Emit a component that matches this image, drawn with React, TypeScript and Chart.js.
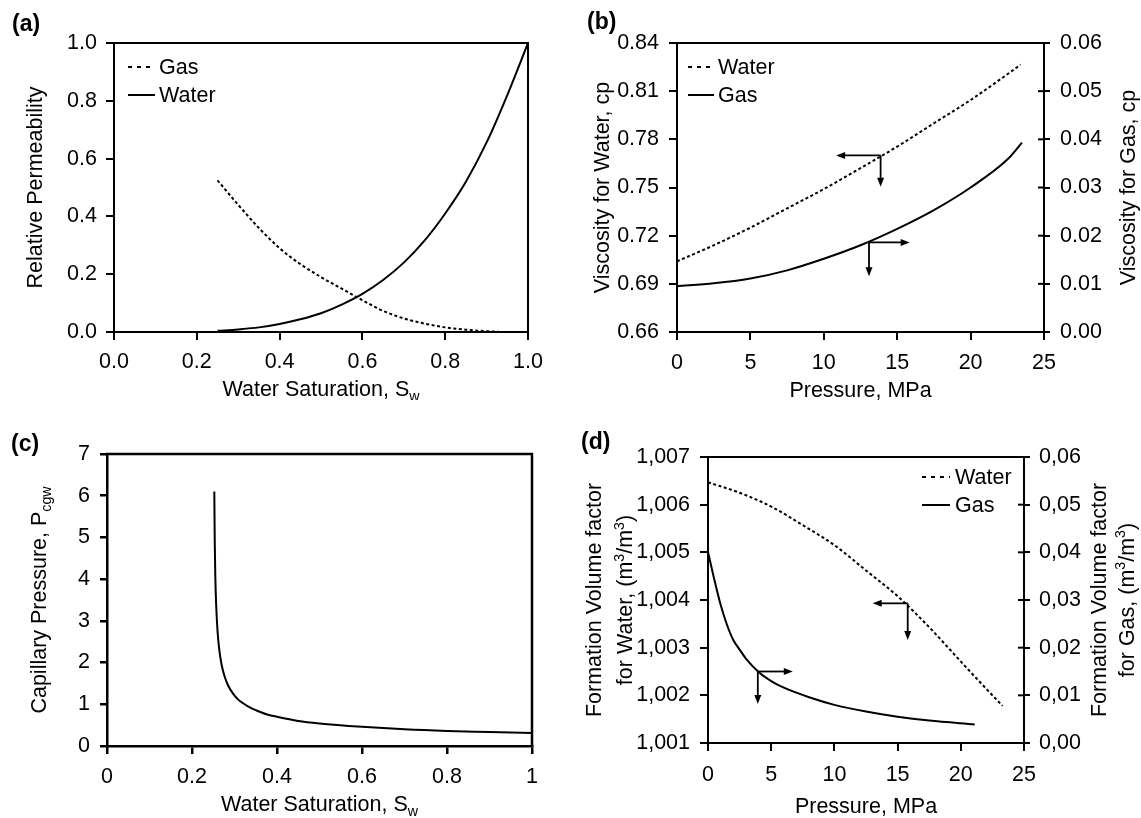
import React, { useEffect, useRef } from 'react';
import { Chart, registerables } from 'chart.js';

Chart.register(...registerables);

const FONT = '"Liberation Sans", Arial, Helvetica, sans-serif';
const FS = 21.5;

// ---------- (a) Relative permeability ----------
const aWaterSw = [0.25, 0.3, 0.35, 0.4, 0.45, 0.5, 0.55, 0.6, 0.65, 0.7, 0.75, 0.8, 0.85, 0.9, 0.95, 1.0];
const aWaterKr = [0.004, 0.009, 0.016, 0.028, 0.044, 0.065, 0.095, 0.132, 0.18, 0.24, 0.316, 0.41, 0.52, 0.656, 0.82, 1.0];
const aGasSw = [0.25, 0.3, 0.35, 0.4, 0.45, 0.5, 0.55, 0.6, 0.65, 0.7, 0.75, 0.8, 0.85, 0.9, 0.93];
const aGasKr = [0.525, 0.44, 0.36, 0.29, 0.235, 0.19, 0.15, 0.11, 0.073, 0.047, 0.029, 0.016, 0.008, 0.003, 0.001];
const aXTicks = [0, 0.2, 0.4, 0.6, 0.8, 1.0];
const aXLabels = ['0.0', '0.2', '0.4', '0.6', '0.8', '1.0'];
const aYTicks = [0, 0.2, 0.4, 0.6, 0.8, 1.0];
const aYLabels = ['0.0', '0.2', '0.4', '0.6', '0.8', '1.0'];

// ---------- (b) Viscosity ----------
const bWaterP = [0, 2.5, 5, 7.5, 10, 12.5, 15, 17.5, 20, 22.5, 23.4];
const bWaterMu = [0.704, 0.714, 0.725, 0.737, 0.749, 0.762, 0.7755, 0.79, 0.8045, 0.8205, 0.8265];
const bGasP = [0, 2.5, 5, 7.5, 10, 12.5, 15, 17.5, 20, 22.5, 23.5];
const bGasMu = [0.0095, 0.0101, 0.0111, 0.0128, 0.0152, 0.018, 0.0214, 0.0253, 0.03, 0.0358, 0.0393];
const bXTicks = [0, 5, 10, 15, 20, 25];
const bXLabels = ['0', '5', '10', '15', '20', '25'];
const bYTicks = [0.66, 0.69, 0.72, 0.75, 0.78, 0.81, 0.84];
const bYLabels = ['0.66', '0.69', '0.72', '0.75', '0.78', '0.81', '0.84'];
const bY1Ticks = [0, 0.01, 0.02, 0.03, 0.04, 0.05, 0.06];
const bY1Labels = ['0.00', '0.01', '0.02', '0.03', '0.04', '0.05', '0.06'];
// [corner x, corner y, horizontal tip x, vertical tip y]
const bWaterArrow = [13.87, 0.770, 10.84, 0.7505];
const bGasArrow = [13.08, 0.0186, 15.85, 0.0116];

// ---------- (c) Capillary pressure ----------
const cSw = [0.2525, 0.2535, 0.255, 0.257, 0.26, 0.264, 0.27, 0.277, 0.285, 0.297, 0.31, 0.321, 0.335, 0.352, 0.375, 0.4, 0.45, 0.5, 0.6, 0.7, 0.8, 0.9, 1.0];
const cPc = [6.1, 4.9, 4.0, 3.35, 2.77, 2.32, 1.93, 1.66, 1.45, 1.25, 1.1, 1.02, 0.93, 0.85, 0.76, 0.7, 0.6, 0.54, 0.46, 0.4, 0.36, 0.335, 0.31];
const cXTicks = [0, 0.2, 0.4, 0.6, 0.8, 1];
const cXLabels = ['0', '0.2', '0.4', '0.6', '0.8', '1'];
const cYTicks = [0, 1, 2, 3, 4, 5, 6, 7];
const cYLabels = ['0', '1', '2', '3', '4', '5', '6', '7'];

// ---------- (d) Formation volume factor ----------
const dWaterP = [0, 2.5, 5, 7.5, 10, 12.5, 15, 17.5, 20, 22, 23.3];
const dWaterB = [1.00647, 1.00625, 1.00596, 1.00557, 1.00515, 1.00462, 1.00408, 1.00343, 1.00271, 1.00214, 1.00178];
const dGasP = [0, 0.5, 1, 1.5, 2, 2.5, 3, 4, 5, 6, 8, 10, 12.5, 15, 17.5, 21.1];
const dGasB = [0.0401, 0.0343, 0.029, 0.0248, 0.0216, 0.0196, 0.0177, 0.0149, 0.013, 0.0116, 0.0096, 0.008, 0.0066, 0.0055, 0.0047, 0.0039];
const dXTicks = [0, 5, 10, 15, 20, 25];
const dXLabels = ['0', '5', '10', '15', '20', '25'];
const dYTicks = [1.001, 1.002, 1.003, 1.004, 1.005, 1.006, 1.007];
const dYLabels = ['1,001', '1,002', '1,003', '1,004', '1,005', '1,006', '1,007'];
const dY1Ticks = [0, 0.01, 0.02, 0.03, 0.04, 0.05, 0.06];
const dY1Labels = ['0,00', '0,01', '0,02', '0,03', '0,04', '0,05', '0,06'];
const dWaterArrow = [15.8, 1.00393, 13.03, 1.00316];
const dGasArrow = [3.94, 0.015, 6.71, 0.0082];

// ---------- helpers ----------
type Seg = { t: string; v?: 'sub' | 'sup' };
type TitleSpec = { segs: Seg[]; x: number | null; y: number | null; rot: number };
type LegendItem = { text: string; dash: number[]; y: number };
type ArrowSpec = { axis: string; d: number[] };

interface Decor {
  label: { text: string; x: number; y: number };
  bw: number;
  rightBorder: boolean;
  crossAxis?: string;
  legend: { x0: number; x1: number; tx: number; items: LegendItem[] };
  titles: TitleSpec[];
  arrows: ArrowSpec[];
}

const pts = (xs: number[], ys: number[]) => xs.map((x, i) => ({ x, y: ys[i] }));

function drawRich(ctx: CanvasRenderingContext2D, segs: Seg[], x: number, y: number, rot: number, size: number) {
  ctx.save();
  ctx.translate(x, y);
  ctx.rotate(rot);
  ctx.textAlign = 'left';
  ctx.textBaseline = 'alphabetic';
  ctx.fillStyle = '#000';
  const fontFor = (s: Seg) => `${s.v ? size * 0.66 : size}px ${FONT}`;
  const widths = segs.map((s) => {
    ctx.font = fontFor(s);
    return ctx.measureText(s.t).width;
  });
  const total = widths.reduce((a, b) => a + b, 0);
  let cx = -total / 2;
  const base = size * 0.36;
  segs.forEach((s, i) => {
    ctx.font = fontFor(s);
    const dy = s.v === 'sub' ? size * 0.24 : s.v === 'sup' ? -size * 0.4 : 0;
    ctx.fillText(s.t, cx, base + dy);
    cx += widths[i];
  });
  ctx.restore();
}

function drawArrow(ctx: CanvasRenderingContext2D, x0: number, y0: number, x1: number, y1: number) {
  const ang = Math.atan2(y1 - y0, x1 - x0);
  const L = 9;
  const W = 3.5;
  ctx.beginPath();
  ctx.moveTo(x0, y0);
  ctx.lineTo(x1 - Math.cos(ang) * (L - 1), y1 - Math.sin(ang) * (L - 1));
  ctx.stroke();
  ctx.beginPath();
  ctx.moveTo(x1, y1);
  ctx.lineTo(x1 - Math.cos(ang) * L - Math.sin(ang) * W, y1 - Math.sin(ang) * L + Math.cos(ang) * W);
  ctx.lineTo(x1 - Math.cos(ang) * L + Math.sin(ang) * W, y1 - Math.sin(ang) * L - Math.cos(ang) * W);
  ctx.closePath();
  ctx.fill();
}

function decorPlugin(spec: Decor) {
  return {
    id: 'decor',
    afterDraw(chart: any) {
      const ctx: CanvasRenderingContext2D = chart.ctx;
      const a = chart.chartArea;
      ctx.save();
      ctx.strokeStyle = '#000';
      ctx.fillStyle = '#000';
      ctx.lineWidth = spec.bw;
      ctx.lineCap = 'square';
      ctx.setLineDash([]);
      ctx.beginPath();
      ctx.moveTo(a.left, a.top);
      ctx.lineTo(a.right, a.top);
      if (spec.rightBorder) ctx.lineTo(a.right, a.bottom);
      ctx.stroke();
      ctx.lineCap = 'butt';

      if (spec.crossAxis) {
        const s = chart.scales[spec.crossAxis];
        ctx.lineWidth = spec.bw;
        s.ticks.forEach((t: any) => {
          const y = s.getPixelForValue(t.value);
          ctx.beginPath();
          ctx.moveTo(a.right - 6, y);
          ctx.lineTo(a.right, y);
          ctx.stroke();
        });
      }

      // panel label
      ctx.font = `bold 23px ${FONT}`;
      ctx.textAlign = 'left';
      ctx.textBaseline = 'alphabetic';
      ctx.fillText(spec.label.text, spec.label.x, spec.label.y);

      // legend
      ctx.font = `${FS}px ${FONT}`;
      ctx.textBaseline = 'middle';
      spec.legend.items.forEach((it) => {
        ctx.lineWidth = 2;
        ctx.setLineDash(it.dash);
        ctx.beginPath();
        ctx.moveTo(spec.legend.x0, it.y);
        ctx.lineTo(spec.legend.x1, it.y);
        ctx.stroke();
        ctx.setLineDash([]);
        ctx.fillText(it.text, spec.legend.tx, it.y + 1);
      });

      // axis titles
      const cxm = (a.left + a.right) / 2;
      const cym = (a.top + a.bottom) / 2;
      spec.titles.forEach((t) => {
        drawRich(ctx, t.segs, t.x === null ? cxm : t.x, t.y === null ? cym : t.y, t.rot, FS);
      });

      // arrows
      ctx.lineWidth = 1.8;
      ctx.setLineDash([]);
      const xs = chart.scales.x;
      spec.arrows.forEach((ar) => {
        const ys = chart.scales[ar.axis];
        const cx = xs.getPixelForValue(ar.d[0]);
        const cy = ys.getPixelForValue(ar.d[1]);
        const hx = xs.getPixelForValue(ar.d[2]);
        const vy = ys.getPixelForValue(ar.d[3]);
        drawArrow(ctx, cx, cy, hx, cy);
        drawArrow(ctx, cx, cy, cx, vy);
      });
      ctx.restore();
    },
  };
}

function axis(o: {
  pos: string; min: number; max: number; ticks: number[]; labels: string[];
  size: number; pad: number; tick: number; bw: number;
}) {
  const horizontal = o.pos === 'bottom';
  return {
    type: 'linear',
    position: o.pos,
    min: o.min,
    max: o.max,
    afterBuildTicks: (s: any) => {
      s.ticks = o.ticks.map((v) => ({ value: v }));
    },
    afterFit: (s: any) => {
      if (horizontal) s.height = o.size;
      else s.width = o.size;
    },
    ticks: {
      callback: (_v: any, i: number) => o.labels[i],
      font: { family: FONT, size: FS },
      color: '#000',
      padding: o.pad,
      maxRotation: 0,
      minRotation: 0,
      autoSkip: false,
    },
    grid: {
      drawOnChartArea: false,
      drawTicks: true,
      tickLength: o.tick,
      color: '#000',
      lineWidth: o.bw,
    },
    border: { display: true, color: '#000', width: o.bw },
    title: { display: false },
  };
}

const solid = { borderColor: '#000', borderWidth: 2, borderDash: [] as number[], pointRadius: 0, fill: false, cubicInterpolationMode: 'monotone' };
const dotted = { borderColor: '#000', borderWidth: 2, borderDash: [3, 2.5], pointRadius: 0, fill: false, cubicInterpolationMode: 'monotone' };

const baseOptions = (padding: any, scales: any) => ({
  responsive: false,
  animation: false,
  devicePixelRatio: 1,
  layout: { padding },
  plugins: { legend: { display: false }, tooltip: { enabled: false }, title: { display: false } },
  events: [],
  scales,
});

const HALF = -Math.PI / 2;

interface PanelDef {
  x: number; y: number; w: number; h: number;
  make: () => any;
}

const panels: PanelDef[] = [
  {
    x: 0, y: 0, w: 570, h: 400,
    make: () => ({
      type: 'line',
      data: {
        datasets: [
          { ...dotted, label: 'Gas', data: pts(aGasSw, aGasKr) },
          { ...solid, label: 'Water', data: pts(aWaterSw, aWaterKr) },
        ],
      },
      options: baseOptions({ top: 43, right: 42, left: 0, bottom: 0 }, {
        x: axis({ pos: 'bottom', min: 0, max: 1, ticks: aXTicks, labels: aXLabels, size: 68, pad: 9, tick: 8, bw: 2 }),
        y: axis({ pos: 'left', min: 0, max: 1, ticks: aYTicks, labels: aYLabels, size: 114, pad: 9, tick: 8, bw: 2 }),
      }),
      plugins: [decorPlugin({
        label: { text: '(a)', x: 12, y: 31 },
        bw: 2,
        rightBorder: true,
        legend: { x0: 128, x1: 155, tx: 159, items: [{ text: 'Gas', dash: [4, 5], y: 67 }, { text: 'Water', dash: [], y: 95 }] },
        titles: [
          { segs: [{ t: 'Relative Permeability' }], x: 34.5, y: null, rot: HALF },
          { segs: [{ t: 'Water Saturation, S' }, { t: 'w', v: 'sub' }], x: null, y: 388, rot: 0 },
        ],
        arrows: [],
      })],
    }),
  },
  {
    x: 570, y: 0, w: 571, h: 400,
    make: () => ({
      type: 'line',
      data: {
        datasets: [
          { ...dotted, label: 'Water', data: pts(bWaterP, bWaterMu), yAxisID: 'y' },
          { ...solid, label: 'Gas', data: pts(bGasP, bGasMu), yAxisID: 'y1' },
        ],
      },
      options: baseOptions({ top: 43, right: 0, left: 0, bottom: 0 }, {
        x: axis({ pos: 'bottom', min: 0, max: 25, ticks: bXTicks, labels: bXLabels, size: 68, pad: 10, tick: 8, bw: 2 }),
        y: axis({ pos: 'left', min: 0.66, max: 0.84, ticks: bYTicks, labels: bYLabels, size: 107, pad: 10, tick: 8, bw: 2 }),
        y1: axis({ pos: 'right', min: 0, max: 0.06, ticks: bY1Ticks, labels: bY1Labels, size: 97, pad: 10, tick: 6, bw: 2 }),
      }),
      plugins: [decorPlugin({
        label: { text: '(b)', x: 17, y: 29 },
        bw: 2,
        rightBorder: false,
        crossAxis: 'y1',
        legend: { x0: 118, x1: 144, tx: 148, items: [{ text: 'Water', dash: [4, 5], y: 67 }, { text: 'Gas', dash: [], y: 95 }] },
        titles: [
          { segs: [{ t: 'Viscosity for Water, cp' }], x: 31, y: null, rot: HALF },
          { segs: [{ t: 'Viscosity for Gas, cp' }], x: 557.5, y: null, rot: HALF },
          { segs: [{ t: 'Pressure, MPa' }], x: null, y: 389, rot: 0 },
        ],
        arrows: [{ axis: 'y', d: bWaterArrow }, { axis: 'y1', d: bGasArrow }],
      })],
    }),
  },
  {
    x: 0, y: 400, w: 570, h: 418,
    make: () => ({
      type: 'line',
      data: {
        datasets: [{ ...solid, label: 'Pc', data: pts(cSw, cPc) }],
      },
      options: baseOptions({ top: 54, right: 38, left: 0, bottom: 0 }, {
        x: axis({ pos: 'bottom', min: 0, max: 1, ticks: cXTicks, labels: cXLabels, size: 72, pad: 10, tick: 8, bw: 2.5 }),
        y: axis({ pos: 'left', min: 0, max: 7, ticks: cYTicks, labels: cYLabels, size: 107, pad: 10, tick: 7, bw: 2.5 }),
      }),
      plugins: [decorPlugin({
        label: { text: '(c)', x: 11, y: 51 },
        bw: 2.5,
        rightBorder: true,
        legend: { x0: 0, x1: 0, tx: 0, items: [] },
        titles: [
          { segs: [{ t: 'Capillary Pressure, P' }, { t: 'cgw', v: 'sub' }], x: 38, y: null, rot: HALF },
          { segs: [{ t: 'Water Saturation, S' }, { t: 'w', v: 'sub' }], x: null, y: 403, rot: 0 },
        ],
        arrows: [],
      })],
    }),
  },
  {
    x: 570, y: 400, w: 571, h: 418,
    make: () => ({
      type: 'line',
      data: {
        datasets: [
          { ...dotted, label: 'Water', data: pts(dWaterP, dWaterB), yAxisID: 'y' },
          { ...solid, label: 'Gas', data: pts(dGasP, dGasB), yAxisID: 'y1' },
        ],
      },
      options: baseOptions({ top: 57, right: 0, left: 0, bottom: 0 }, {
        x: axis({ pos: 'bottom', min: 0, max: 25, ticks: dXTicks, labels: dXLabels, size: 75, pad: 11, tick: 8, bw: 2 }),
        y: axis({ pos: 'left', min: 1.001, max: 1.007, ticks: dYTicks, labels: dYLabels, size: 138, pad: 10, tick: 8, bw: 2 }),
        y1: axis({ pos: 'right', min: 0, max: 0.06, ticks: dY1Ticks, labels: dY1Labels, size: 117, pad: 9, tick: 6, bw: 2 }),
      }),
      plugins: [decorPlugin({
        label: { text: '(d)', x: 11, y: 49 },
        bw: 2,
        rightBorder: false,
        crossAxis: 'y1',
        legend: { x0: 352, x1: 380, tx: 385, items: [{ text: 'Water', dash: [4, 5], y: 77 }, { text: 'Gas', dash: [], y: 105 }] },
        titles: [
          { segs: [{ t: 'Formation Volume factor' }], x: 23.7, y: null, rot: HALF },
          { segs: [{ t: 'for Water, (m' }, { t: '3', v: 'sup' }, { t: '/m' }, { t: '3', v: 'sup' }, { t: ')' }], x: 54.7, y: null, rot: HALF },
          { segs: [{ t: 'Formation Volume factor' }], x: 528.5, y: null, rot: HALF },
          { segs: [{ t: 'for Gas, (m' }, { t: '3', v: 'sup' }, { t: '/m' }, { t: '3', v: 'sup' }, { t: ')' }], x: 556, y: null, rot: HALF },
          { segs: [{ t: 'Pressure, MPa' }], x: null, y: 405, rot: 0 },
        ],
        arrows: [{ axis: 'y', d: dWaterArrow }, { axis: 'y1', d: dGasArrow }],
      })],
    }),
  },
];

function Panel({ def }: { def: PanelDef }) {
  const ref = useRef<HTMLCanvasElement>(null);
  useEffect(() => {
    if (!ref.current) return;
    const chart = new Chart(ref.current, def.make());
    return () => chart.destroy();
  }, [def]);
  return (
    <canvas
      ref={ref}
      width={def.w}
      height={def.h}
      style={{ position: 'absolute', left: def.x, top: def.y, width: def.w, height: def.h }}
    />
  );
}

export default function App() {
  return (
    <div style={{ position: 'absolute', left: 0, top: 0, width: 1141, height: 818, background: '#fff', overflow: 'hidden' }}>
      {panels.map((p, i) => (
        <Panel key={i} def={p} />
      ))}
    </div>
  );
}
